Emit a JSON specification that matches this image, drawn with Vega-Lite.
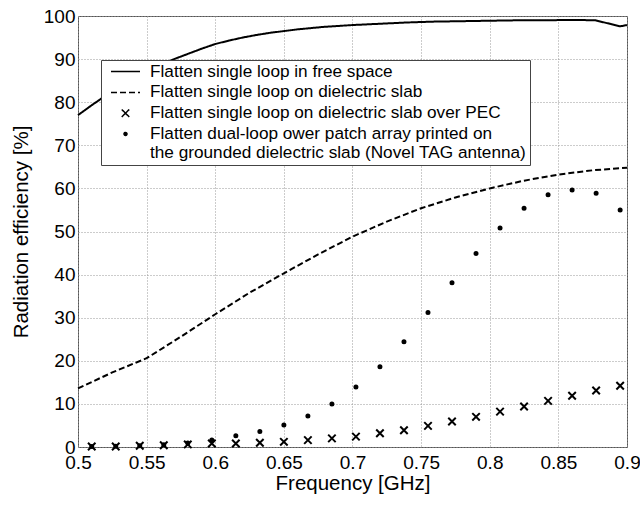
{
  "$schema": "https://vega.github.io/schema/vega-lite/v6.json",
  "width": 549,
  "height": 431,
  "autosize": {"type": "none"},
  "padding": {"left": 78, "top": 16, "right": 13, "bottom": 62},
  "background": "white",
  "config": {
    "view": {"stroke": "#555", "strokeWidth": 1},
    "font": "Liberation Sans",
    "axis": {
      "grid": true,
      "gridColor": "#999",
      "gridDash": [1, 2],
      "gridWidth": 1,
      "domain": false,
      "ticks": false,
      "tickSize": 0,
      "labelColor": "black",
      "labelFont": "Liberation Sans",
      "labelFontSize": 19,
      "labelFlush": false,
      "labelOverlap": false,
      "titleFont": "Liberation Sans",
      "titleFontSize": 20.5,
      "titleFontWeight": "normal",
      "titleColor": "black"
    },
    "legend": {
      "orient": "none",
      "labelFont": "Liberation Sans",
      "labelFontSize": 17.2,
      "labelColor": "black",
      "labelLimit": 0,
      "labelOffset": 15.9,
      "padding": 3,
      "symbolOffset": 12.9,
      "symbolSize": 100,
      "rowPadding": 2.8,
      "strokeColor": "#444",
      "fillColor": "white",
      "cornerRadius": 0
    }
  },
  "data": {
    "values": [
      {"f": 0.5, "v": 77.0, "s": "Flatten single loop in free space"},
      {"f": 0.51, "v": 79.3, "s": "Flatten single loop in free space"},
      {"f": 0.52, "v": 81.5, "s": "Flatten single loop in free space"},
      {"f": 0.53, "v": 83.5, "s": "Flatten single loop in free space"},
      {"f": 0.54, "v": 85.4, "s": "Flatten single loop in free space"},
      {"f": 0.55, "v": 87.1, "s": "Flatten single loop in free space"},
      {"f": 0.56, "v": 88.6, "s": "Flatten single loop in free space"},
      {"f": 0.57, "v": 90.0, "s": "Flatten single loop in free space"},
      {"f": 0.58, "v": 91.2, "s": "Flatten single loop in free space"},
      {"f": 0.59, "v": 92.4, "s": "Flatten single loop in free space"},
      {"f": 0.6, "v": 93.5, "s": "Flatten single loop in free space"},
      {"f": 0.61, "v": 94.3, "s": "Flatten single loop in free space"},
      {"f": 0.62, "v": 95.0, "s": "Flatten single loop in free space"},
      {"f": 0.63, "v": 95.6, "s": "Flatten single loop in free space"},
      {"f": 0.64, "v": 96.1, "s": "Flatten single loop in free space"},
      {"f": 0.65, "v": 96.5, "s": "Flatten single loop in free space"},
      {"f": 0.66, "v": 96.9, "s": "Flatten single loop in free space"},
      {"f": 0.67, "v": 97.2, "s": "Flatten single loop in free space"},
      {"f": 0.68, "v": 97.5, "s": "Flatten single loop in free space"},
      {"f": 0.69, "v": 97.7, "s": "Flatten single loop in free space"},
      {"f": 0.7, "v": 97.9, "s": "Flatten single loop in free space"},
      {"f": 0.72, "v": 98.2, "s": "Flatten single loop in free space"},
      {"f": 0.74, "v": 98.5, "s": "Flatten single loop in free space"},
      {"f": 0.76, "v": 98.7, "s": "Flatten single loop in free space"},
      {"f": 0.78, "v": 98.8, "s": "Flatten single loop in free space"},
      {"f": 0.8, "v": 98.9, "s": "Flatten single loop in free space"},
      {"f": 0.82, "v": 99.0, "s": "Flatten single loop in free space"},
      {"f": 0.84, "v": 99.0, "s": "Flatten single loop in free space"},
      {"f": 0.86, "v": 99.1, "s": "Flatten single loop in free space"},
      {"f": 0.877, "v": 99.0, "s": "Flatten single loop in free space"},
      {"f": 0.895, "v": 97.6, "s": "Flatten single loop in free space"},
      {"f": 0.9, "v": 97.9, "s": "Flatten single loop in free space"},
      {"f": 0.5, "v": 13.6, "s": "Flatten single loop on dielectric slab"},
      {"f": 0.525, "v": 17.3, "s": "Flatten single loop on dielectric slab"},
      {"f": 0.55, "v": 20.6, "s": "Flatten single loop on dielectric slab"},
      {"f": 0.575, "v": 25.6, "s": "Flatten single loop on dielectric slab"},
      {"f": 0.6, "v": 30.8, "s": "Flatten single loop on dielectric slab"},
      {"f": 0.625, "v": 35.8, "s": "Flatten single loop on dielectric slab"},
      {"f": 0.65, "v": 40.3, "s": "Flatten single loop on dielectric slab"},
      {"f": 0.675, "v": 44.7, "s": "Flatten single loop on dielectric slab"},
      {"f": 0.7, "v": 48.8, "s": "Flatten single loop on dielectric slab"},
      {"f": 0.725, "v": 52.3, "s": "Flatten single loop on dielectric slab"},
      {"f": 0.75, "v": 55.4, "s": "Flatten single loop on dielectric slab"},
      {"f": 0.775, "v": 57.9, "s": "Flatten single loop on dielectric slab"},
      {"f": 0.8, "v": 60.0, "s": "Flatten single loop on dielectric slab"},
      {"f": 0.825, "v": 61.8, "s": "Flatten single loop on dielectric slab"},
      {"f": 0.85, "v": 63.2, "s": "Flatten single loop on dielectric slab"},
      {"f": 0.875, "v": 64.2, "s": "Flatten single loop on dielectric slab"},
      {"f": 0.9, "v": 64.8, "s": "Flatten single loop on dielectric slab"},
      {"f": 0.51, "v": 0.1, "s": "Flatten single loop on dielectric slab over PEC"},
      {"f": 0.5275, "v": 0.1, "s": "Flatten single loop on dielectric slab over PEC"},
      {"f": 0.545, "v": 0.3, "s": "Flatten single loop on dielectric slab over PEC"},
      {"f": 0.5625, "v": 0.4, "s": "Flatten single loop on dielectric slab over PEC"},
      {"f": 0.58, "v": 0.6, "s": "Flatten single loop on dielectric slab over PEC"},
      {"f": 0.5975, "v": 0.8, "s": "Flatten single loop on dielectric slab over PEC"},
      {"f": 0.615, "v": 0.8, "s": "Flatten single loop on dielectric slab over PEC"},
      {"f": 0.6325, "v": 1.0, "s": "Flatten single loop on dielectric slab over PEC"},
      {"f": 0.65, "v": 1.2, "s": "Flatten single loop on dielectric slab over PEC"},
      {"f": 0.6675, "v": 1.6, "s": "Flatten single loop on dielectric slab over PEC"},
      {"f": 0.685, "v": 2.0, "s": "Flatten single loop on dielectric slab over PEC"},
      {"f": 0.7025, "v": 2.4, "s": "Flatten single loop on dielectric slab over PEC"},
      {"f": 0.72, "v": 3.2, "s": "Flatten single loop on dielectric slab over PEC"},
      {"f": 0.7375, "v": 3.9, "s": "Flatten single loop on dielectric slab over PEC"},
      {"f": 0.755, "v": 4.9, "s": "Flatten single loop on dielectric slab over PEC"},
      {"f": 0.7725, "v": 5.9, "s": "Flatten single loop on dielectric slab over PEC"},
      {"f": 0.79, "v": 7.0, "s": "Flatten single loop on dielectric slab over PEC"},
      {"f": 0.8075, "v": 8.2, "s": "Flatten single loop on dielectric slab over PEC"},
      {"f": 0.825, "v": 9.4, "s": "Flatten single loop on dielectric slab over PEC"},
      {"f": 0.8425, "v": 10.7, "s": "Flatten single loop on dielectric slab over PEC"},
      {"f": 0.86, "v": 11.9, "s": "Flatten single loop on dielectric slab over PEC"},
      {"f": 0.8775, "v": 13.1, "s": "Flatten single loop on dielectric slab over PEC"},
      {"f": 0.895, "v": 14.2, "s": "Flatten single loop on dielectric slab over PEC"},
      {"f": 0.51, "v": 0.1, "s": "Flatten dual-loop ower patch array printed on the grounded dielectric slab (Novel TAG antenna)"},
      {"f": 0.5275, "v": 0.2, "s": "Flatten dual-loop ower patch array printed on the grounded dielectric slab (Novel TAG antenna)"},
      {"f": 0.545, "v": 0.3, "s": "Flatten dual-loop ower patch array printed on the grounded dielectric slab (Novel TAG antenna)"},
      {"f": 0.5625, "v": 0.5, "s": "Flatten dual-loop ower patch array printed on the grounded dielectric slab (Novel TAG antenna)"},
      {"f": 0.58, "v": 0.9, "s": "Flatten dual-loop ower patch array printed on the grounded dielectric slab (Novel TAG antenna)"},
      {"f": 0.5975, "v": 1.6, "s": "Flatten dual-loop ower patch array printed on the grounded dielectric slab (Novel TAG antenna)"},
      {"f": 0.615, "v": 2.6, "s": "Flatten dual-loop ower patch array printed on the grounded dielectric slab (Novel TAG antenna)"},
      {"f": 0.6325, "v": 3.6, "s": "Flatten dual-loop ower patch array printed on the grounded dielectric slab (Novel TAG antenna)"},
      {"f": 0.65, "v": 5.1, "s": "Flatten dual-loop ower patch array printed on the grounded dielectric slab (Novel TAG antenna)"},
      {"f": 0.6675, "v": 7.2, "s": "Flatten dual-loop ower patch array printed on the grounded dielectric slab (Novel TAG antenna)"},
      {"f": 0.685, "v": 10.0, "s": "Flatten dual-loop ower patch array printed on the grounded dielectric slab (Novel TAG antenna)"},
      {"f": 0.7025, "v": 13.9, "s": "Flatten dual-loop ower patch array printed on the grounded dielectric slab (Novel TAG antenna)"},
      {"f": 0.72, "v": 18.6, "s": "Flatten dual-loop ower patch array printed on the grounded dielectric slab (Novel TAG antenna)"},
      {"f": 0.7375, "v": 24.4, "s": "Flatten dual-loop ower patch array printed on the grounded dielectric slab (Novel TAG antenna)"},
      {"f": 0.755, "v": 31.2, "s": "Flatten dual-loop ower patch array printed on the grounded dielectric slab (Novel TAG antenna)"},
      {"f": 0.7725, "v": 38.1, "s": "Flatten dual-loop ower patch array printed on the grounded dielectric slab (Novel TAG antenna)"},
      {"f": 0.79, "v": 44.9, "s": "Flatten dual-loop ower patch array printed on the grounded dielectric slab (Novel TAG antenna)"},
      {"f": 0.8075, "v": 50.8, "s": "Flatten dual-loop ower patch array printed on the grounded dielectric slab (Novel TAG antenna)"},
      {"f": 0.825, "v": 55.4, "s": "Flatten dual-loop ower patch array printed on the grounded dielectric slab (Novel TAG antenna)"},
      {"f": 0.8425, "v": 58.5, "s": "Flatten dual-loop ower patch array printed on the grounded dielectric slab (Novel TAG antenna)"},
      {"f": 0.86, "v": 59.6, "s": "Flatten dual-loop ower patch array printed on the grounded dielectric slab (Novel TAG antenna)"},
      {"f": 0.8775, "v": 58.9, "s": "Flatten dual-loop ower patch array printed on the grounded dielectric slab (Novel TAG antenna)"},
      {"f": 0.895, "v": 55.0, "s": "Flatten dual-loop ower patch array printed on the grounded dielectric slab (Novel TAG antenna)"}
    ]
  },
  "encoding": {
    "x": {
      "field": "f",
      "type": "quantitative",
      "title": "Frequency [GHz]",
      "scale": {"domain": [0.5, 0.9], "nice": false, "zero": false},
      "axis": {
        "values": [0.5, 0.55, 0.6, 0.65, 0.7, 0.75, 0.8, 0.85, 0.9],
        "format": ".2~f",
        "labelPadding": 6,
        "titlePadding": 1
      }
    },
    "y": {
      "field": "v",
      "type": "quantitative",
      "title": "Radiation efficiency [%]",
      "scale": {"domain": [0, 100], "nice": false},
      "axis": {
        "values": [0, 10, 20, 30, 40, 50, 60, 70, 80, 90, 100],
        "labelPadding": 3,
        "titlePadding": 12
      }
    }
  },
  "layer": [
    {
      "transform": [
        {"filter": {"field": "s", "oneOf": ["Flatten single loop in free space", "Flatten single loop on dielectric slab"]}}
      ],
      "mark": {"type": "line", "color": "black", "strokeWidth": 2},
      "encoding": {
        "strokeDash": {
          "field": "s",
          "type": "nominal",
          "scale": {
            "domain": ["Flatten single loop in free space", "Flatten single loop on dielectric slab", "Flatten single loop on dielectric slab over PEC", "Flatten dual-loop ower patch array printed on the grounded dielectric slab (Novel TAG antenna)"],
            "range": [[1, 0], [6, 3], [1, 0], [1, 0]]
          },
          "legend": {"title": null, "legendX": 23, "legendY": 44}
        }
      }
    },
    {
      "transform": [
        {"filter": {"field": "s", "oneOf": ["Flatten single loop on dielectric slab over PEC", "Flatten dual-loop ower patch array printed on the grounded dielectric slab (Novel TAG antenna)"]}}
      ],
      "mark": {"type": "point", "filled": true, "stroke": "black", "strokeWidth": 2, "opacity": 1},
      "encoding": {
        "shape": {
          "field": "s",
          "type": "nominal",
          "scale": {
            "domain": ["Flatten single loop in free space", "Flatten single loop on dielectric slab", "Flatten single loop on dielectric slab over PEC", "Flatten dual-loop ower patch array printed on the grounded dielectric slab (Novel TAG antenna)"],
            "range": ["M-2.9,0L2.9,0", "M-2.9,0L2.9,0", "M-1,-1L1,1M-1,1L1,-1", "circle"]
          },
          "legend": {
            "title": null,
            "legendX": 23,
            "legendY": 44,
            "labelExpr": "indexof(datum.label, 'dual-loop') >= 0 ? ['Flatten dual-loop ower patch array printed on', 'the grounded dielectric slab (Novel TAG antenna)  '] : datum.label",
            "encode": {
              "symbols": {"update": {
                "stroke": {"value": "black"},
                "strokeWidth": {"value": 2},
                "opacity": {"value": 1},
                "size": {"signal": "datum.index < 2 ? 100 : (datum.index == 2 ? 56 : 9)"}
              }},
              "labels": {"update": {"lineHeight": {"value": 19}}}
            }
          }
        },
        "size": {
          "field": "s",
          "type": "nominal",
          "scale": {
            "type": "ordinal",
            "domain": ["Flatten single loop in free space", "Flatten single loop on dielectric slab", "Flatten single loop on dielectric slab over PEC", "Flatten dual-loop ower patch array printed on the grounded dielectric slab (Novel TAG antenna)"],
            "range": [100, 100, 56, 9]
          },
          "legend": null
        },
        "fill": {
          "field": "s",
          "type": "nominal",
          "scale": {
            "domain": ["Flatten single loop in free space", "Flatten single loop on dielectric slab", "Flatten single loop on dielectric slab over PEC", "Flatten dual-loop ower patch array printed on the grounded dielectric slab (Novel TAG antenna)"],
            "range": ["transparent", "transparent", "transparent", "black"]
          },
          "legend": {"title": null, "legendX": 23, "legendY": 44}
        }
      }
    }
  ]
}
